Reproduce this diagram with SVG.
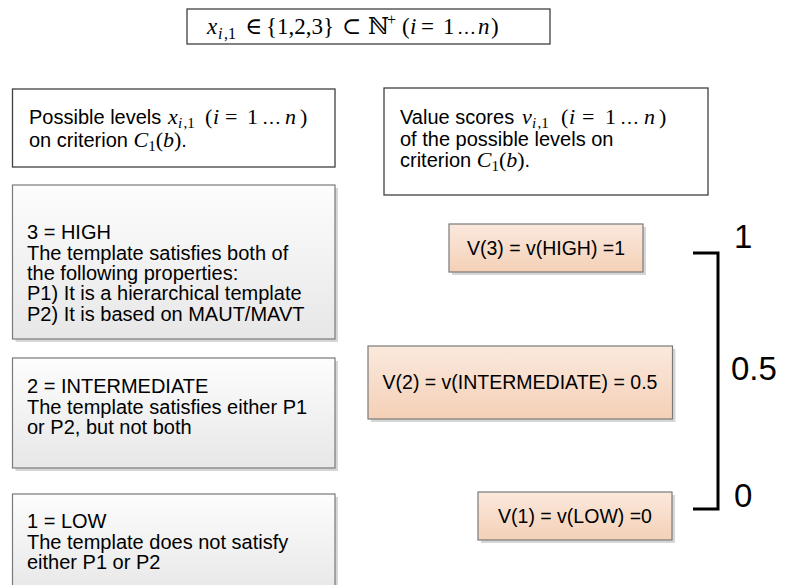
<svg xmlns="http://www.w3.org/2000/svg" width="786" height="585" viewBox="0 0 786 585">
  <style>
    .t { font-family: "Liberation Sans", Arial, sans-serif; font-size: 20px; fill: #000; }
    .o { font-family: "Liberation Sans", Arial, sans-serif; font-size: 19.5px; fill: #000; text-anchor: middle; }
    .m { font-family: "Liberation Serif", "DejaVu Serif", serif; font-style: italic; font-size: 22px; }
    .u { font-family: "Liberation Serif", "DejaVu Serif", serif; font-style: normal; font-size: 22px; }
    .s { font-size: 15px; }
    .e { font-size: 19px; }
    .f { font-family: "Liberation Serif", "DejaVu Serif", serif; font-size: 23px; fill: #000; }
    .f .s { font-size: 16px; }
    .big { font-family: "Liberation Sans", Arial, sans-serif; font-size: 33px; fill: #000; }
    .plain { fill: #fff; stroke: #404040; stroke-width: 1.3; }
    .level { fill: url(#grayFill); stroke: #7a7a7a; stroke-width: 1.2; }
    .score { fill: url(#peachFill); stroke: #7a7a7a; stroke-width: 1.2; }
    .shadow { fill: #d6d6d6; }
    .bracket { fill: none; stroke: #000; stroke-width: 3; stroke-linejoin: miter; }
  </style>
  <defs>
    <linearGradient id="grayFill" x1="0" y1="0" x2="0" y2="1">
      <stop offset="0" stop-color="#fdfdfd"/>
      <stop offset="1" stop-color="#e7e7e7"/>
    </linearGradient>
    <linearGradient id="peachFill" x1="0" y1="0" x2="0" y2="1">
      <stop offset="0" stop-color="#fbe9dd"/>
      <stop offset="1" stop-color="#f4d0b7"/>
    </linearGradient>
  </defs>
  <rect width="786" height="585" fill="#fff"/>

  <!-- domain of the levels -->
  <g id="domain">
    <rect class="plain" x="187" y="9" width="363" height="35"/>
    <text class="f" y="34"><tspan x="207" font-style="italic">x</tspan><tspan class="s" x="218" dy="5" font-style="italic">i</tspan><tspan class="s" x="224">,1</tspan><tspan x="245" dy="-5">∈</tspan><tspan x="266">{1,2,3}</tspan><tspan x="342">⊂</tspan><tspan x="368">ℕ</tspan><tspan class="s" x="387" dy="-9">+</tspan><tspan x="402" dy="9">(</tspan><tspan x="410" font-style="italic">i</tspan><tspan x="421">=</tspan><tspan x="443">1</tspan><tspan class="e" x="457">…</tspan><tspan x="478" font-style="italic">n</tspan><tspan x="491">)</tspan></text>
  </g>

  <!-- column headers -->
  <g id="levels-header">
    <rect class="plain" x="12.5" y="89" width="322.5" height="78"/>
    <text class="t" x="29" y="124">Possible levels <tspan class="m" x="168">x</tspan><tspan class="m s" x="178" dy="4">i</tspan><tspan class="u s" x="183.5">,1</tspan><tspan class="u" x="205" dy="-4">(</tspan><tspan class="m" x="213">i</tspan><tspan class="u" x="225">=</tspan><tspan class="u" x="247">1</tspan><tspan class="u e" x="262">…</tspan><tspan class="m" x="285">n</tspan><tspan class="u" x="300">)</tspan></text>
    <text class="t" x="29" y="147">on criterion <tspan class="m">C</tspan><tspan class="u s" dy="4">1</tspan><tspan class="u" dy="-4">(</tspan><tspan class="m">b</tspan><tspan class="u">)</tspan>.</text>
  </g>
  <g id="scores-header">
    <rect class="plain" x="384" y="88" width="324" height="107"/>
    <text class="t" x="400" y="124">Value scores <tspan class="m" x="522">v</tspan><tspan class="m s" x="532" dy="4">i</tspan><tspan class="u s" x="537.5">,1</tspan><tspan class="u" x="561" dy="-4">(</tspan><tspan class="m" x="569">i</tspan><tspan class="u" x="582">=</tspan><tspan class="u" x="605">1</tspan><tspan class="u e" x="620">…</tspan><tspan class="m" x="644">n</tspan><tspan class="u" x="659">)</tspan></text>
    <text class="t" x="400" y="146">of the possible levels on</text>
    <text class="t" x="400" y="167">criterion <tspan class="m">C</tspan><tspan class="u s" dy="4">1</tspan><tspan class="u" dy="-4">(</tspan><tspan class="m">b</tspan><tspan class="u">)</tspan>.</text>
  </g>

  <!-- levels -->
  <g id="level-high">
    <rect class="shadow" x="15.5" y="188" width="322.5" height="154"/>
    <rect class="level" x="12.5" y="185" width="322.5" height="154"/>
    <text class="t" x="27" y="239">3 = HIGH</text>
    <text class="t" x="27" y="260">The template satisfies both of</text>
    <text class="t" x="27" y="280">the following properties:</text>
    <text class="t" x="27" y="300">P1) It is a hierarchical template</text>
    <text class="t" x="27" y="321">P2) It is based on MAUT/MAVT</text>
  </g>
  <g id="level-intermediate">
    <rect class="shadow" x="15.5" y="361" width="322.5" height="110"/>
    <rect class="level" x="12.5" y="358" width="322.5" height="110"/>
    <text class="t" x="27" y="393">2 = INTERMEDIATE</text>
    <text class="t" x="27" y="414">The template satisfies either P1</text>
    <text class="t" x="27" y="434">or P2, but not both</text>
  </g>
  <g id="level-low">
    <rect class="shadow" x="15.5" y="497" width="322.5" height="100"/>
    <rect class="level" x="12.5" y="494" width="322.5" height="100"/>
    <text class="t" x="27" y="528">1 = LOW</text>
    <text class="t" x="27" y="549">The template does not satisfy</text>
    <text class="t" x="27" y="569">either P1 or P2</text>
  </g>

  <!-- value scores -->
  <g id="score-high">
    <rect class="shadow" x="452" y="227" width="194" height="48"/>
    <rect class="score" x="449" y="224" width="194" height="48"/>
    <text class="o" x="546" y="255">V(3) = v(HIGH) =1</text>
  </g>
  <g id="score-intermediate">
    <rect class="shadow" x="371" y="349" width="304.5" height="73"/>
    <rect class="score" x="368" y="346" width="304.5" height="73"/>
    <text class="o" x="520" y="389">V(2) = v(INTERMEDIATE) = 0.5</text>
  </g>
  <g id="score-low">
    <rect class="shadow" x="481" y="495" width="194" height="48"/>
    <rect class="score" x="478" y="492" width="194" height="48"/>
    <text class="o" x="575" y="523">V(1) = v(LOW) =0</text>
  </g>

  <!-- value scale -->
  <g id="connectors">
    <path class="bracket" d="M693,253 H718 V509 H693"/>
  </g>
  <g id="scale-labels">
    <text class="big" x="734" y="248">1</text>
    <text class="big" x="731" y="380">0.5</text>
    <text class="big" x="734" y="507">0</text>
  </g>
</svg>
